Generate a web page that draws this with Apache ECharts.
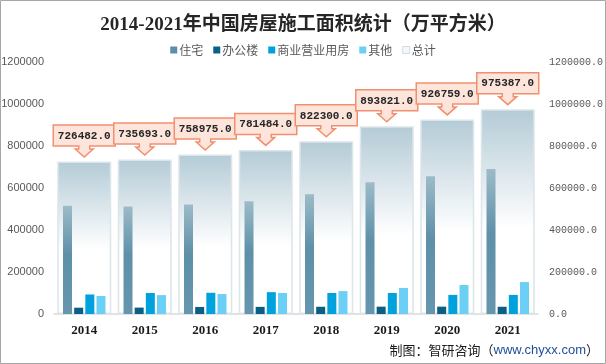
<!DOCTYPE html>
<html>
<head>
<meta charset="utf-8">
<script src="https://cdn.jsdelivr.net/npm/echarts@6/dist/echarts.min.js"></script>
<style>
html,body{margin:0;padding:0;background:#fff;}
#chart{width:606px;height:364px;}
</style>
</head>
<body>
<div id="chart"></div>
<script>
const years = ['2014','2015','2016','2017','2018','2019','2020','2021'];
const totalArea = [726482, 735693, 758975, 781484, 822300, 893821, 926759, 975387];
const residential = [515096, 511570, 521310, 536444, 569987, 627673, 655558, 690319];
const office = [30000, 30500, 33500, 34000, 34500, 35000, 35000, 34500];
const commercial = [93000, 100000, 101000, 104000, 100000, 100000, 91000, 91000];
const others = [86000, 90000, 95000, 100000, 109000, 124000, 138000, 152000];

const chart = echarts.init(document.getElementById('chart'), null, {renderer:'canvas'});
const G = echarts.graphic;

function callout(params, api){
  const v = api.value(1);
  const p = api.coord([api.value(0), v]);
  const cx = p[0], ty = p[1] - 4.5;
  const L = cx - 31, R = cx + 31, top = ty - 32, bot = ty - 11;
  const pts = [[L,top],[R,top],[R,bot],[cx+5.5,bot],[cx+5.5,ty-8],[cx+9,ty-8],[cx,ty],[cx-9,ty-8],[cx-5.5,ty-8],[cx-5.5,bot],[L,bot]];
  return {
    type:'group',
    children:[
      {type:'polygon', shape:{points:pts}, style:{fill:'#fde5dc', stroke:'#f1906f', lineWidth:1.5}},
      {type:'text', style:{text:v.toFixed(1), x:cx, y:(top+bot)/2 + 0.5, align:'center', verticalAlign:'middle',
        font:'bold 11px "Liberation Mono", monospace', fill:'#262626'}}
    ]
  };
}

const option = {
  animation:false,
  backgroundColor:'#fff',
  title:[
    {text:'2014-2021年中国房屋施工面积统计（万平方米）', left:'center', top:11,
     textStyle:{fontSize:19, fontWeight:'bold', color:'#262626', fontFamily:'"Liberation Serif", "Noto Sans CJK SC"'}},
    {text:'{a|制图：智研咨询（}{b|www.chyxx.com}{a|）}', right:2, bottom:2,
     textStyle:{fontWeight:'normal', rich:{
       a:{fontSize:13, fontWeight:'normal', color:'#1a1a1a', fontFamily:'"Noto Sans CJK SC"'},
       b:{fontSize:13, fontWeight:'normal', color:'#1f4e9a', fontFamily:'"Liberation Sans"'}
     }}}
  ],
  legend:{
    top:39, left:'center', itemWidth:7, itemHeight:7, itemGap:10, icon:'rect',
    textStyle:{fontSize:12, color:'#595959', fontFamily:'"Noto Sans CJK SC"', padding:[0,0,0,-3]},
    data:[
      {name:'住宅', itemStyle:{color:'#5b8fa8'}},
      {name:'办公楼', itemStyle:{color:'#0e5f86'}},
      {name:'商业营业用房', itemStyle:{color:'#00a0dc'}},
      {name:'其他', itemStyle:{color:'#6dcff6'}},
      {name:'总计', itemStyle:{color:'#f4f8fa', borderColor:'#cfdbe1', borderWidth:1}}
    ]
  },
  grid:{left:54, right:68, top:62, bottom:50, outerBoundsMode:'none', containLabel:false},
  xAxis:[
    {type:'category', data:years,
     axisLine:{lineStyle:{color:'#d9d9d9', width:1.5}}, axisTick:{show:false},
     axisLabel:{color:'#1a1a1a', fontSize:13, fontWeight:'bold', fontFamily:'"Liberation Serif"', margin:10}},
    {type:'category', data:years, show:false}
  ],
  yAxis:[
    {type:'value', min:0, max:1200000, interval:200000, splitLine:{show:false},
     axisLine:{show:false}, axisTick:{show:false},
     axisLabel:{color:'#595959', fontSize:11, fontFamily:'"Liberation Sans"', margin:10,
       formatter:function(v){return String(v);}}},
    {type:'value', position:'right', min:0, max:1200000, interval:200000, splitLine:{show:false},
     axisLine:{show:false}, axisTick:{show:false},
     axisLabel:{color:'#595959', fontSize:10, fontFamily:'"Liberation Mono"', margin:11,
       formatter:function(v){return v.toFixed(1);}}}
  ],
  series:[
    {name:'总计', type:'bar', xAxisIndex:0, yAxisIndex:1, data:totalArea, barWidth:54, z:1,
     itemStyle:{color:new G.LinearGradient(0,0,0,1,[{offset:0,color:'#b4cbd6'},{offset:0.58,color:'#ffffff'},{offset:1,color:'#ffffff'}]),
       borderColor:'#dce5e9', borderWidth:1.5}},
    {name:'住宅', type:'bar', xAxisIndex:1, yAxisIndex:0, data:residential, barWidth:9, barGap:'24%', z:3,
     itemStyle:{color:new G.LinearGradient(0,0,0,1,[{offset:0,color:'#9dbbc8'},{offset:0.45,color:'#5e90a8'},{offset:1,color:'#6596ad'}])}},
    {name:'办公楼', type:'bar', xAxisIndex:1, yAxisIndex:0, data:office, barWidth:9, barGap:'24%', z:3,
     itemStyle:{color:'#0b5e84'}},
    {name:'商业营业用房', type:'bar', xAxisIndex:1, yAxisIndex:0, data:commercial, barWidth:9, barGap:'24%', z:3,
     itemStyle:{color:'#00a2de'}},
    {name:'其他', type:'bar', xAxisIndex:1, yAxisIndex:0, data:others, barWidth:9, barGap:'24%', z:3,
     itemStyle:{color:'#6ccff5'}},
    {name:'标注', type:'custom', xAxisIndex:0, yAxisIndex:1, z:10,
     data:totalArea.map(function(v,i){return [i, v];}), renderItem:callout}
  ],
  graphic:[
    {type:'rect', shape:{x:0.5, y:0.5, width:605, height:363}, style:{fill:null, stroke:'#a6a6a6', lineWidth:1}, z:100, silent:true}
  ]
};
chart.setOption(option);
</script>
</body>
</html>
